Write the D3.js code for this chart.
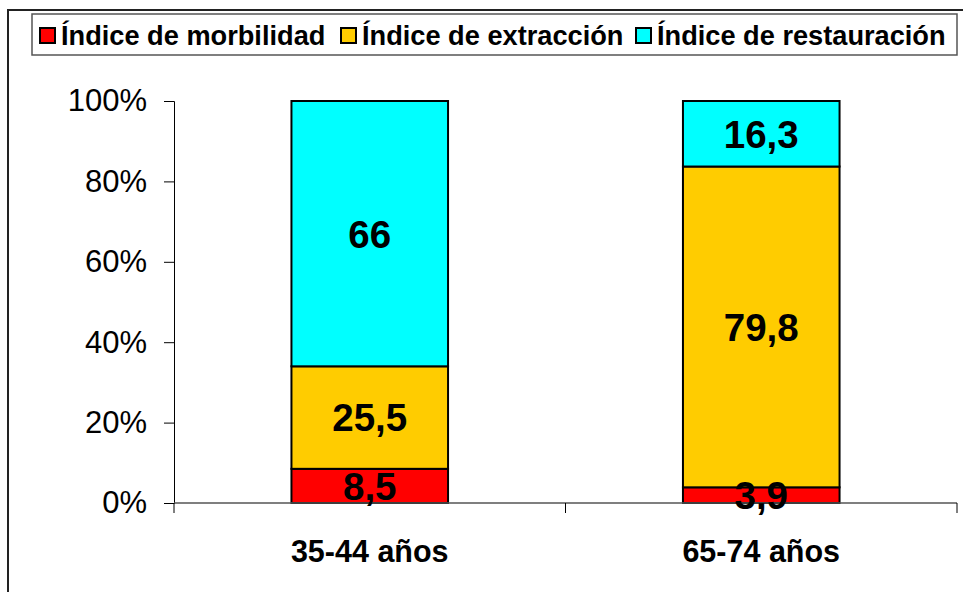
<!DOCTYPE html>
<html>
<head>
<meta charset="utf-8">
<script src="https://cdn.jsdelivr.net/npm/d3@7"></script>
<style>
  html, body { margin: 0; padding: 0; background: #fff; }
  svg { display: block; }
  svg text { font-family: "Liberation Sans", Arial, sans-serif; }
</style>
</head>
<body>
<svg id="chart" width="963" height="592"></svg>
<script>
const categories = ["35-44 años", "65-74 años"];
const seriesNames = ["Índice de morbilidad", "Índice de extracción", "Índice de restauración"];
const morbilidad = [8.5, 3.9];
const extraccion = [25.5, 79.8];
const restauracion = [66, 16.3];
const yTicks = [0, 20, 40, 60, 80, 100];

const colors = ["#ff0000", "#ffcc00", "#00ffff"];
const series = [morbilidad, extraccion, restauracion];

const rows = categories.map((c, i) => ({
  cat: c,
  [seriesNames[0]]: morbilidad[i],
  [seriesNames[1]]: extraccion[i],
  [seriesNames[2]]: restauracion[i],
}));
const stacked = d3.stack().keys(seriesNames)(rows);

const svg = d3.select("#chart");

// outer chart frame (right/bottom fall outside the picture)
svg.append("rect")
  .attr("x", 8).attr("y", 10).attr("width", 1000).attr("height", 700)
  .attr("fill", "none").attr("stroke", "#222").attr("stroke-width", 2);

const x = d3.scaleBand().domain(categories).range([174, 957])
  .paddingInner(0.6).paddingOuter(0.3);
const y = d3.scaleLinear().domain([0, 100]).range([503, 101]);

// bars
const layers = svg.append("g").selectAll("g")
  .data(stacked).join("g")
  .attr("fill", (d, i) => colors[i]);

layers.selectAll("rect")
  .data(d => d)
  .join("rect")
  .attr("x", d => x(d.data.cat))
  .attr("width", x.bandwidth())
  .attr("y", d => y(d[1]))
  .attr("height", d => y(d[0]) - y(d[1]))
  .attr("stroke", "#000")
  .attr("stroke-width", 2);

// y axis
const yAxis = svg.append("g")
  .attr("transform", "translate(174,0)")
  .attr("font-family", null)
  .call(d3.axisLeft(y).tickValues(yTicks).tickSize(10).tickPadding(17)
    .tickFormat(d => d + "%"));
yAxis.attr("font-family", null).attr("font-size", null);
yAxis.select(".domain").attr("stroke", "#000").attr("stroke-width", 1);
yAxis.selectAll(".tick line").attr("stroke", "#000");
yAxis.selectAll(".tick text")
  .attr("font-size", 31).attr("fill", "#000");

// x axis
const xAxisG = svg.append("g");
xAxisG.append("line")
  .attr("x1", 174).attr("x2", 957).attr("y1", y(0)).attr("y2", y(0))
  .attr("stroke", "#555").attr("stroke-width", 1.6);
const bounds = [x.range()[0]].concat(categories.map(c => x(c) + x.bandwidth() + x.step() * x.paddingInner() / 2));
bounds[bounds.length - 1] = x.range()[1];
xAxisG.selectAll("line.tk")
  .data(bounds).join("line").attr("class", "tk")
  .attr("x1", d => d).attr("x2", d => d)
  .attr("y1", y(0)).attr("y2", y(0) + 10)
  .attr("stroke", "#000");
xAxisG.selectAll("text")
  .data(categories).join("text")
  .attr("x", d => x(d) + x.bandwidth() / 2)
  .attr("y", 562)
  .attr("text-anchor", "middle")
  .attr("font-size", 30.5).attr("font-weight", "bold")
  .text(d => d);

// data labels
const fmt = v => String(v).replace(".", ",");
const labels = svg.append("g");
stacked.forEach((layer, si) => {
  labels.selectAll(null)
    .data(layer).join("text")
    .attr("x", d => x(d.data.cat) + x.bandwidth() / 2)
    .attr("y", d => (y(d[0]) + y(d[1])) / 2)
    .attr("dy", "0.36em")
    .attr("text-anchor", "middle")
    .attr("font-size", 38.5).attr("font-weight", "bold")
    .text(d => fmt(series[si][categories.indexOf(d.data.cat)]));
});

// legend
const legendX = [40, 341, 636];
const legend = svg.append("g");
legend.append("rect")
  .attr("x", 32).attr("y", 14).attr("width", 925).attr("height", 41)
  .attr("fill", "#fff").attr("stroke", "#555").attr("stroke-width", 1.5);
const items = legend.selectAll("g.item")
  .data(seriesNames).join("g").attr("class", "item")
  .attr("transform", (d, i) => `translate(${legendX[i]},28)`);
items.append("rect")
  .attr("width", 15).attr("height", 15)
  .attr("fill", (d, i) => colors[i])
  .attr("stroke", "#000").attr("stroke-width", 2);
items.append("text")
  .attr("x", 21).attr("y", 17)
  .attr("font-size", 27.2).attr("font-weight", "bold")
  .text(d => d);
</script>
</body>
</html>
